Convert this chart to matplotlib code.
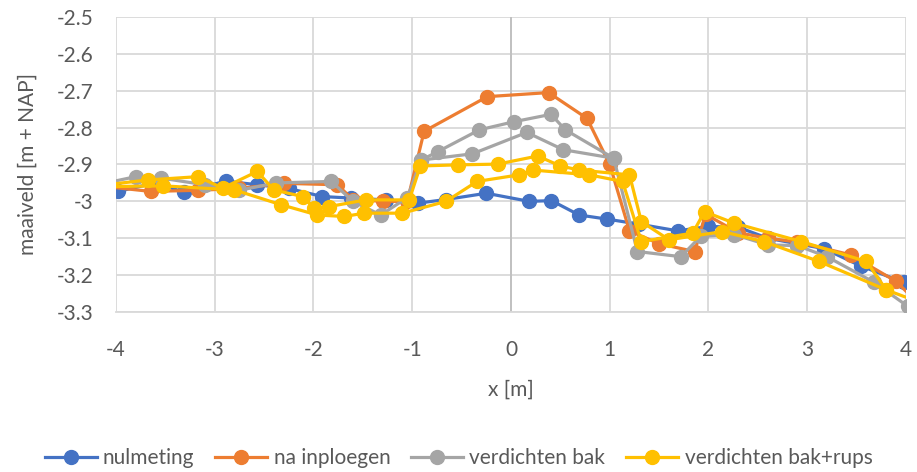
import matplotlib.pyplot as plt
import numpy as np

plt.rcParams['font.family'] = ['Lato', 'DejaVu Sans']
plt.rcParams['axes.unicode_minus'] = False

# Maaiveldhoogte per meting (x in m, hoogte in m + NAP)
nul_x = [-4.1, -3.98, -3.6, -3.31, -2.89, -2.57, -2.25, -1.91, -1.62, -1.27, -0.945,
         -0.66, -0.25, 0.185, 0.41, 0.69, 0.97, 1.3, 1.69, 2.0, 2.3, 2.6, 2.9, 3.17,
         3.54, 3.98, 4.1]
nul_y = [-2.975, -2.973, -2.95, -2.975, -2.945, -2.955, -2.965, -2.987, -2.991, -2.996,
         -3.005, -2.995, -2.978, -3.0, -2.998, -3.037, -3.048, -3.062, -3.08, -3.068,
         -3.07, -3.1, -3.115, -3.128, -3.175, -3.22, -3.235]

ploeg_x = [-4.1, -3.65, -3.17, -2.75, -2.3, -1.76, -1.6, -1.3, -1.05, -0.88, -0.24,
           0.38, 0.77, 1.0, 1.2, 1.5, 1.86, 1.97, 2.3, 2.6, 2.9, 3.44, 3.9, 4.1]
ploeg_y = [-2.96, -2.973, -2.97, -2.965, -2.951, -2.955, -2.995, -3.0, -3.0, -2.81,
           -2.716, -2.705, -2.775, -2.9, -3.08, -3.115, -3.136, -3.035, -3.085, -3.1,
           -3.11, -3.145, -3.217, -3.27]

bak_x = [-4.1, -3.8, -3.54, -3.1, -2.75, -2.38, -1.82, -1.6, -1.32, -1.05, -0.91,
         -0.74, -0.32, 0.03, 0.405, 0.55, 1.04, 1.28, 1.72, 1.92, 2.26, 2.6, 2.9,
         3.2, 3.68, 4.02, 4.1]
bak_y = [-2.95, -2.933, -2.937, -2.955, -2.97, -2.95, -2.946, -3.0, -3.037, -2.99,
         -2.888, -2.865, -2.806, -2.784, -2.764, -2.806, -2.883, -3.136, -3.15,
         -3.095, -3.09, -3.118, -3.12, -3.15, -3.22, -3.285, -3.3]
# tweede raai, alleen over de rug
bak2_x = [-0.91, -0.39, 0.16, 0.53, 1.04]
bak2_y = [-2.888, -2.871, -2.813, -2.86, -2.883]

rups_x = [-4.1, -3.68, -3.17, -2.92, -2.57, -2.4, -2.11, -1.99, -1.84, -1.47, -1.03,
          -0.918, -0.54, -0.135, 0.27, 0.5, 0.69, 1.2, 1.32, 1.6, 2.14, 2.56, 3.12,
          3.8, 4.1]
rups_y = [-2.955, -2.942, -2.933, -2.964, -2.919, -2.969, -2.987, -3.018, -3.014,
          -2.996, -2.996, -2.904, -2.901, -2.899, -2.877, -2.904, -2.915, -2.928,
          -3.055, -3.104, -3.082, -3.109, -3.163, -3.24, -3.27]
rups2_x = [-4.1, -3.52, -2.8, -2.33, -1.96, -1.69, -1.486, -1.1, -0.658, -0.344,
           0.084, 0.22, 0.79, 1.13, 1.32, 1.84, 1.96, 2.26, 2.94, 3.6, 3.8]
rups2_y = [-2.96, -2.958, -2.969, -3.009, -3.037, -3.041, -3.032, -3.032, -3.0,
           -2.946, -2.928, -2.915, -2.928, -2.946, -3.109, -3.086, -3.028, -3.059,
           -3.109, -3.163, -3.24]

fig = plt.figure(figsize=(9.17, 4.72), dpi=100)
ax = fig.add_axes([0.1265, 0.339, 0.8615, 0.625])

style = dict(marker='o', markersize=10, linewidth=2.3, clip_on=True)
ax.plot(nul_x, nul_y, color='#4472C4', label='nulmeting', zorder=3, **style)
ax.plot(ploeg_x, ploeg_y, color='#ED7D31', label='na inploegen', zorder=4, **style)
ax.plot(bak_x, bak_y, color='#A5A5A5', label='verdichten bak', zorder=5, **style)
ax.plot(bak2_x, bak2_y, color='#A5A5A5', zorder=5, **style)
ax.plot(rups_x, rups_y, color='#FFC000', label='verdichten bak+rups', zorder=6, **style)
ax.plot(rups2_x, rups2_y, color='#FFC000', zorder=6, **style)

yticks = np.round(np.arange(-3.3, -2.45, 0.1), 1)
ax.set_xlim(-4, 4)
ax.set_ylim(-3.3, -2.5)
ax.set_xticks(np.arange(-4, 5, 1))
ax.set_yticks(yticks)
ax.set_yticklabels([f'{v:g}' for v in yticks])
ax.grid(True, color='#D9D9D9', linewidth=1.3, zorder=0)
ax.set_axisbelow(True)
ax.axvline(0, color='#BFBFBF', linewidth=1.3, zorder=1)
for side in ['top', 'right', 'left']:
    ax.spines[side].set_visible(False)
ax.spines['bottom'].set_color('#D9D9D9')
ax.spines['bottom'].set_linewidth(1.3)
ax.tick_params(length=0, labelsize=15, labelcolor='#595959')
ax.tick_params(axis='y', pad=16)
ax.tick_params(axis='x', pad=20)

ax.set_xlabel('x [m]', fontsize=15, color='#595959', labelpad=14)
ax.set_ylabel('maaiveld [m + NAP]', fontsize=15, color='#595959', labelpad=14)

handles, labels = ax.get_legend_handles_labels()
fig.legend(handles, labels, loc='center', bbox_to_anchor=(0.5, 0.03), ncol=4,
           frameon=False, fontsize=15, labelcolor='#595959', handlelength=2.5,
           handletextpad=0.3, columnspacing=1.0)

fig.savefig('out.png', dpi=100)
